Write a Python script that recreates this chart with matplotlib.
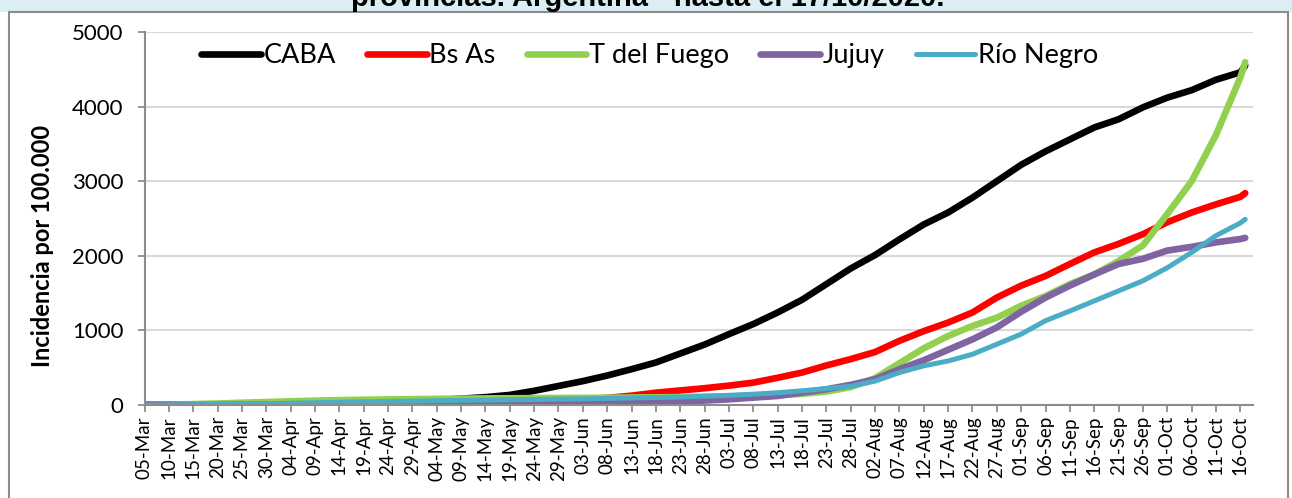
import numpy as np
import pandas as pd
import matplotlib
matplotlib.use("Agg")
import matplotlib.pyplot as plt
import matplotlib.dates as mdates
from matplotlib.patches import Rectangle

plt.rcParams['font.family'] = ['Lato', 'DejaVu Sans']

fechas = ['05-Mar', '10-Mar', '15-Mar', '20-Mar', '25-Mar', '30-Mar', '04-Apr', '09-Apr',
          '14-Apr', '19-Apr', '24-Apr', '29-Apr', '04-May', '09-May', '14-May', '19-May',
          '24-May', '29-May', '03-Jun', '08-Jun', '13-Jun', '18-Jun', '23-Jun', '28-Jun',
          '03-Jul', '08-Jul', '13-Jul', '18-Jul', '23-Jul', '28-Jul', '02-Aug', '07-Aug',
          '12-Aug', '17-Aug', '22-Aug', '27-Aug', '01-Sep', '06-Sep', '11-Sep', '16-Sep',
          '21-Sep', '26-Sep', '01-Oct', '06-Oct', '11-Oct', '16-Oct', '17-Oct']

caba = [0, 1, 3, 6, 10, 15, 20, 25, 30, 38, 45, 55, 65, 85, 105, 135,
        190, 255, 320, 395, 480, 570, 690, 810, 950, 1085, 1240, 1410, 1620, 1830,
        2010, 2220, 2420, 2580, 2780, 3000, 3220, 3400, 3560, 3720, 3830, 3990,
        4120, 4220, 4360, 4460, 4550]
bsas = [0, 0, 1, 2, 3, 5, 8, 10, 13, 16, 19, 22, 26, 30, 35, 42,
        50, 62, 75, 95, 125, 165, 195, 225, 260, 300, 365, 435, 530, 615,
        710, 860, 990, 1105, 1240, 1440, 1600, 1730, 1890, 2045, 2160, 2290,
        2450, 2580, 2690, 2790, 2840]
tfuego = [0, 5, 12, 20, 30, 40, 50, 58, 65, 70, 75, 78, 82, 85, 88, 90,
          92, 94, 96, 98, 100, 103, 106, 110, 115, 122, 132, 150, 180, 240,
          360, 560, 760, 925, 1060, 1170, 1330, 1460, 1620, 1750, 1930, 2140,
          2560, 3000, 3620, 4390, 4595]
jujuy = [0, 0, 0, 0, 1, 1, 2, 2, 3, 3, 4, 4, 5, 5, 6, 7,
         8, 9, 12, 18, 28, 38, 48, 60, 76, 99, 121, 166, 211, 270,
         345, 480, 600, 740, 880, 1040, 1250, 1440, 1600, 1750, 1890, 1960,
         2070, 2120, 2180, 2225, 2240]
rionegro = [0, 2, 5, 8, 12, 18, 24, 30, 36, 42, 47, 52, 57, 62, 66, 70,
            74, 78, 82, 88, 95, 100, 108, 118, 130, 145, 165, 190, 220, 250,
            320, 435, 525, 590, 680, 815, 950, 1130, 1260, 1395, 1530, 1665,
            1840, 2045, 2270, 2440, 2490]

series = [('CABA', caba, '#000000', 4.8),
          ('Bs As', bsas, '#ff0000', 4.8),
          ('T del Fuego', tfuego, '#92d050', 4.8),
          ('Jujuy', jujuy, '#8064a2', 4.8),
          ('Río Negro', rionegro, '#4bacc6', 3.6)]

x = pd.to_datetime([f + '-2020' for f in fechas], format='%d-%b-%Y')

W, H = 1292, 498
fig = plt.figure(figsize=(W / 100, H / 100), dpi=100)

# banda del titulo y marco
fig.patches.append(Rectangle((0, 1 - 12 / H), 1, 12 / H, transform=fig.transFigure,
                             facecolor='#dbeef4', edgecolor='none', zorder=0))
fig.patches.append(Rectangle((9 / W, -0.05), (1288 - 9) / W, 1 - 12 / H + 0.05,
                             transform=fig.transFigure, facecolor='none',
                             edgecolor='#8c8c8c', lw=1.5, zorder=1))
fig.text(648 / W, 1 - 6.5 / H, 'provincias. Argentina - hasta el 17/10/2020.',
         ha='center', va='baseline', fontsize=21, fontweight='bold',
         family='Liberation Sans')

x0, x1 = 144.5, 1253
ax = fig.add_axes([x0 / W, (H - 405) / H, (x1 - x0) / W, (405 - 32) / H])

for nombre, vals, color, lw in series:
    ax.plot(x, vals, color=color, lw=lw, label=nombre, solid_capstyle='round',
            solid_joinstyle='round')

inicio = pd.Timestamp('2020-03-05')
ax.set_xlim(inicio, inicio + pd.Timedelta(days=227.6))
ax.set_ylim(0, 5000)
ax.set_yticks(np.arange(0, 5001, 1000))
ax.set_xticks(pd.date_range('2020-03-05', '2020-10-16', freq='5D'))
ax.xaxis.set_major_formatter(mdates.DateFormatter('%d-%b'))
ax.tick_params(axis='x', labelrotation=90, labelsize=13.5, length=5, width=1.3,
               color='#8c8c8c', pad=3)
ax.tick_params(axis='y', labelsize=16, length=5, width=1.3, color='#8c8c8c', pad=10)

ax.grid(axis='y', color='#d9d9d9', lw=1.5)
ax.set_axisbelow(True)
for s in ['top', 'right']:
    ax.spines[s].set_visible(False)
for s in ['left', 'bottom']:
    ax.spines[s].set_color('#8c8c8c')
    ax.spines[s].set_linewidth(1.5)

fig.text(43 / W, (H - 246) / H, 'Incidencia por 100.000', rotation=90,
         ha='center', va='center', fontsize=17, fontweight='bold')

leg = ax.legend(loc='upper left', bbox_to_anchor=(0.034, 1.02), ncol=5, frameon=False,
                fontsize=19.5, handlelength=2.2, handletextpad=0.1, columnspacing=1.15,
                borderaxespad=0.3)

fig.savefig('out.png', dpi=100)
